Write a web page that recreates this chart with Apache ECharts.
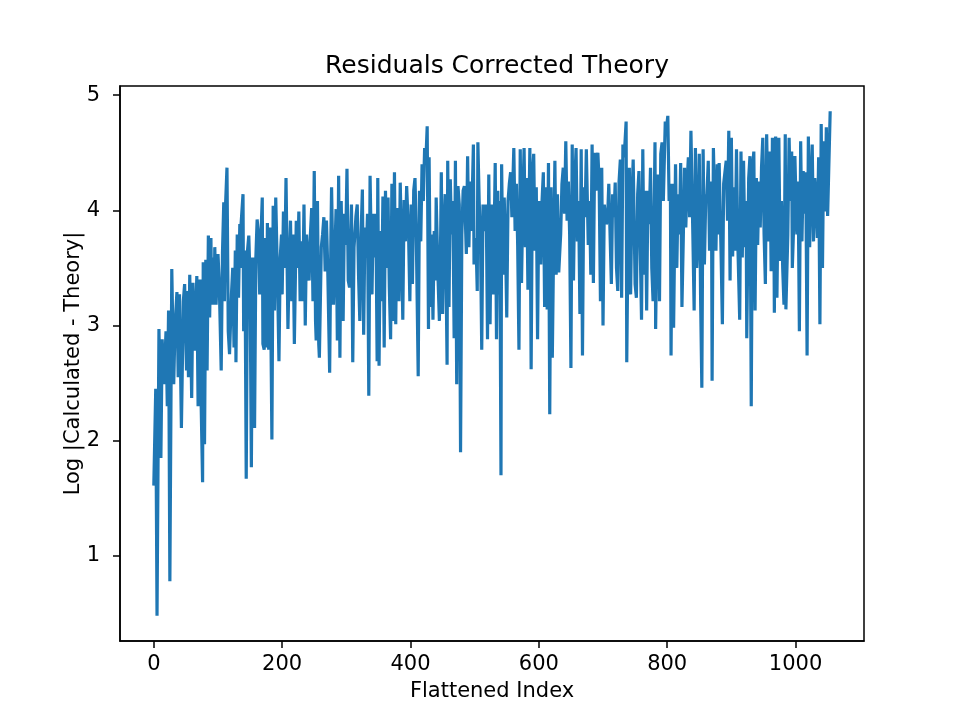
<!DOCTYPE html>
<html>
<head>
<meta charset="utf-8"/>
<title>Residuals Corrected Theory</title>
<script src="https://cdn.jsdelivr.net/npm/echarts@6/dist/echarts.min.js"></script>
<style>
html,body{margin:0;padding:0;background:#fff}
#main{width:960px;height:720px}
</style>
</head>
<body>
<div id="main"></div>
<script>
// values: flattened index -> log residual
var idx = [0,3,5,8,11,13,16,19,21,23,25,28,31,33,36,38,40,43,46,48,51,52,54,56,59,61,64,67,69,72,73,76,77,79,81,83,85,87,89,90,92,94,95,97,100,102,105,107,109,110,112,114,116,118,121,123,125,127,128,130,132,134,135,136,139,140,142,144,146,148,150,152,154,157,159,161,163,165,167,169,170,172,
174,176,177,179,181,184,186,188,190,193,195,197,199,200,202,204,206,209,211,213,215,217,219,222,224,226,228,230,232,234,236,238,240,242,244,246,248,250,252,253,255,257,258,261,263,265,267,269,271,274,276,277,280,282,284,286,288,290,292,295,297,299,301,303,305,308,310,312,315,317,319,321,323,325,327,329,331,333,335,337,340,342,344,346,348,349,
351,353,355,357,359,361,363,365,367,369,371,373,375,377,379,382,384,386,388,390,392,394,397,399,401,403,405,407,409,412,414,416,418,420,422,424,426,428,429,431,433,435,437,439,440,443,445,447,448,450,452,454,457,458,460,462,464,466,468,470,472,474,476,478,480,482,484,487,489,491,493,495,498,499,502,504,505,507,509,511,513,515,518,520,522,524,526,
529,532,534,536,538,539,541,542,544,546,548,550,552,554,556,558,561,563,565,567,569,571,573,575,577,579,581,583,586,588,590,592,594,596,598,600,603,605,607,609,611,613,615,617,619,621,623,625,627,629,631,634,636,638,640,642,644,646,648,650,652,654,656,658,660,662,664,666,668,670,672,674,677,679,681,683,685,687,689,692,694,696,698,700,702,705,
707,709,711,713,715,717,719,721,723,725,727,729,731,733,736,737,739,741,743,745,747,750,752,754,756,758,760,762,764,766,768,770,772,774,776,778,781,782,784,786,788,790,792,794,797,799,801,803,805,806,808,810,813,815,817,819,821,823,825,827,829,831,833,835,837,840,842,844,846,848,850,852,854,856,858,860,862,864,866,869,870,872,874,876,878,880,
881,884,886,888,890,892,894,896,898,900,902,904,906,908,910,913,915,917,919,921,923,924,927,929,931,933,935,937,939,941,943,945,947,949,951,953,955,958,960,962,964,966,967,969,971,974,976,978,980,982,984,985,988,990,992,994,995,997,999,1002,1004,1006,1008,1010,1012,1014,1016,1018,1020,1022,1024,1026,1028,1030,1032,1034,1036,1038,1040,1042,1044,1046,1048,1050,1054];

var residual = [1.61,2.45,0.48,2.97,1.85,2.88,2.49,2.95,2.30,3.13,0.78,3.49,2.49,2.98,3.29,2.55,3.27,2.11,3.21,3.36,2.61,3.30,2.55,3.44,2.37,3.37,2.78,3.43,2.30,3.40,2.55,1.64,3.55,1.97,3.57,2.61,3.78,3.07,3.76,3.18,3.59,3.18,3.68,3.18,3.62,3.36,2.61,3.63,4.07,3.21,4.08,4.37,2.95,2.75,3.27,3.50,2.81,3.65,2.68,3.79,3.24,3.88,3.50,3.88,4.14,2.95,3.65,1.67,3.65,3.78,3.39,1.77,3.59,2.11,3.59,3.92,3.79,3.27,3.78,4.11,2.84,2.79,
3.76,2.81,3.89,2.79,3.85,2.01,4.04,3.13,4.11,3.33,2.69,3.59,3.79,3.27,3.99,3.50,4.28,2.97,3.53,3.91,3.21,3.79,2.84,3.91,3.50,3.99,3.21,3.73,3.21,4.05,3.00,3.79,3.59,3.39,3.79,4.02,3.21,4.34,3.04,2.87,4.08,2.84,2.72,3.68,3.79,3.94,3.47,3.91,3.50,2.59,3.79,4.20,3.18,3.59,4.01,2.87,4.30,2.72,4.08,3.04,3.97,3.70,4.36,3.39,3.33,4.05,2.68,3.68,3.95,4.05,3.44,3.04,3.79,4.18,2.92,3.85,3.59,3.97,2.39,4.30,3.27,3.97,3.59,3.97,2.69,4.28,
2.65,3.82,3.21,4.12,2.81,4.17,3.50,4.11,3.33,2.88,4.23,3.04,4.33,3.01,4.02,3.21,4.24,3.68,3.05,4.09,3.73,4.21,3.79,3.21,4.05,3.36,4.17,4.28,3.79,2.56,4.17,3.73,4.40,4.08,4.54,4.44,4.73,2.97,4.46,3.16,3.79,3.05,3.82,3.39,4.11,3.39,3.04,3.79,4.33,3.10,3.79,4.14,2.66,4.43,3.16,4.27,3.79,4.08,2.89,4.43,2.49,4.21,4.05,1.90,3.79,4.17,4.21,3.62,4.47,3.68,4.25,3.82,4.57,3.53,3.76,3.30,4.59,4.08,3.76,2.79,4.05,3.82,4.05,2.88,4.31,3.01,4.05,
3.27,4.41,2.88,4.17,3.27,4.08,1.70,4.40,3.44,4.11,3.73,3.07,4.08,4.23,4.33,3.94,4.54,3.82,4.23,3.70,2.79,4.53,3.37,4.08,4.54,3.68,4.28,3.31,4.54,2.62,4.31,4.49,3.65,4.20,2.88,4.08,3.53,4.08,4.33,3.16,4.20,3.14,4.41,2.23,4.20,2.72,3.68,4.43,3.44,4.14,3.46,3.79,4.23,4.37,3.97,4.60,3.91,4.25,3.79,2.63,4.57,3.39,4.23,4.54,3.73,4.08,3.10,4.53,2.74,4.20,3.94,4.53,3.70,4.08,3.44,4.57,3.37,4.50,4.17,4.50,4.23,3.21,4.37,3.00,4.05,3.88,
3.91,4.23,3.79,3.36,4.14,3.94,4.24,3.50,3.30,4.25,4.44,3.24,4.57,4.46,4.77,2.68,3.79,4.37,3.27,4.08,4.44,3.36,3.24,4.14,4.34,3.68,3.05,4.53,3.44,4.17,3.13,4.17,3.88,4.37,3.50,3.21,4.59,2.97,3.85,4.31,3.21,4.49,4.59,4.08,4.77,4.72,4.82,4.08,4.23,2.74,4.23,2.98,4.40,3.50,4.14,3.79,4.41,3.16,3.73,4.37,3.85,4.23,4.46,3.94,4.69,3.79,3.13,4.54,3.50,3.79,4.49,3.27,2.46,4.53,3.53,4.08,4.14,4.43,3.65,4.25,2.52,4.54,4.08,3.65,4.40,3.79,
4.41,3.62,3.01,4.23,4.33,4.43,3.91,4.69,3.39,4.63,3.60,4.20,3.65,4.53,3.73,3.05,4.51,3.59,4.43,3.68,4.08,2.89,4.28,4.47,2.30,4.37,4.51,3.13,4.28,3.70,4.25,3.85,4.37,4.63,3.79,3.36,4.66,3.73,4.51,3.47,4.63,4.14,3.11,4.64,3.24,4.63,3.56,4.08,3.50,3.18,4.66,3.14,3.79,4.63,4.08,4.51,3.50,3.85,4.47,3.79,4.25,2.95,4.60,3.73,4.34,3.97,4.33,2.74,4.64,3.68,4.23,4.57,3.73,4.28,4.08,3.76,4.46,3.01,4.75,3.50,4.60,3.99,4.72,3.95,4.86];

var xTicks = [0, 200, 400, 600, 800, 1000];
var yTicks = [1, 2, 3, 4, 5];

var points = [];
for (var i = 0; i < idx.length; i++) {
    points.push([idx[i], residual[i]]);
}

var myChart = echarts.init(document.getElementById('main'), null, {renderer: 'canvas'});

var font = 'DejaVu Sans';
var option = {
    animation: false,
    backgroundColor: '#fff',
    title: {
        text: 'Residuals Corrected Theory',
        left: 492,
        top: 49,
        textAlign: 'center',
        textStyle: {fontFamily: font, fontSize: 25, fontWeight: 'normal', color: '#000'}
    },
    grid: {
        left: 120, right: 96, top: 86, bottom: 79,
        show: true, borderColor: '#000', borderWidth: 1.5, backgroundColor: 'transparent'
    },
    xAxis: {
        type: 'value',
        min: -52.7,
        max: 1106.7,
        name: 'Flattened Index',
        nameLocation: 'middle',
        nameGap: 40,
        nameTextStyle: {fontFamily: font, fontSize: 21, color: '#000'},
        splitLine: {show: false},
        axisLine: {show: true, onZero: false, lineStyle: {color: '#000', width: 1.5}},
        axisTick: {show: true, length: 7, customValues: xTicks, lineStyle: {color: '#000', width: 1.5}},
        axisLabel: {
            margin: 13, customValues: xTicks, fontFamily: font, fontSize: 21, color: '#000',
            formatter: function (v) { return String(v); }
        }
    },
    yAxis: {
        type: 'value',
        min: 0.261,
        max: 5.079,
        name: 'Log |Calculated - Theory|',
        nameLocation: 'middle',
        nameGap: 36,
        nameMoveOverlap: false,
        nameTextStyle: {fontFamily: font, fontSize: 21, color: '#000'},
        splitLine: {show: false},
        axisLine: {show: true, onZero: false, lineStyle: {color: '#000', width: 1.5}},
        axisTick: {show: true, length: 7, customValues: yTicks, lineStyle: {color: '#000', width: 1.5}},
        axisLabel: {
            margin: 20, customValues: yTicks, fontFamily: font, fontSize: 21, color: '#000',
            formatter: function (v) { return String(v); }
        }
    },
    series: [{
        type: 'line',
        data: points,
        showSymbol: false,
        symbol: 'none',
        lineStyle: {color: '#1f77b4', width: 3.2},
        itemStyle: {color: '#1f77b4'}
    }]
};

myChart.setOption(option);
</script>
</body>
</html>
